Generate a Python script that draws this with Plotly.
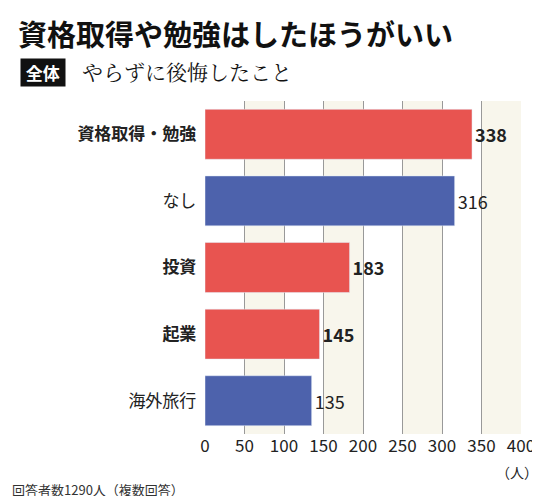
import plotly.graph_objects as go

categories = ["資格取得・勉強", "なし", "投資", "起業", "海外旅行"]
values = [338, 316, 183, 145, 135]
highlight = [True, False, True, True, False]
tick_vals = [0, 50, 100, 150, 200, 250, 300, 350, 400]

RED = "#e85450"
BLUE = "#4d62ac"
FONT = "Noto Sans CJK JP"

colors = [RED if h else BLUE for h in highlight]
ylabels = [f"<b>{c}</b>" if h else c for c, h in zip(categories, highlight)]
vlabels = [f"<b>{v}</b>" if h else str(v) for v, h in zip(values, highlight)]

fig = go.Figure(go.Bar(
    x=values, y=ylabels, orientation="h", marker_color=colors, width=0.75,
    text=vlabels, textposition="outside", cliponaxis=False,
    textfont=dict(size=18, color="#222", family=FONT),
))

shapes = []
for a in range(50, 400, 100):
    shapes.append(dict(type="rect", xref="x", yref="paper", x0=a, x1=a + 50, y0=0, y1=1,
                       fillcolor="#f8f6ec", line_width=0, layer="below"))

fig.update_layout(
    width=540, height=496, margin=dict(l=197, r=27, t=93, b=70),
    paper_bgcolor="white", plot_bgcolor="white",
    font=dict(family=FONT, color="#222"),
    shapes=shapes, showlegend=False,
    xaxis=dict(range=[0, 400], tickvals=tick_vals, showgrid=True, gridcolor="#999", gridwidth=1,
               zeroline=False, showline=False, tickfont=dict(size=17, color="#222"), ticks="",
               automargin=False),
    yaxis=dict(autorange="reversed", tickfont=dict(size=17, color="#222"), ticks="",
               ticksuffix="  ", showline=False, automargin=False),
    annotations=[
        dict(text="<b>資格取得や勉強はしたほうがいい</b>", x=0, y=1, xref="paper", yref="paper",
             xanchor="left", yanchor="top", showarrow=False, font=dict(size=29, color="#111"),
             xshift=-197 + 8, yshift=93 - 2),
        dict(text="<b> 全体 </b>", x=0, y=1, xref="paper", yref="paper", xanchor="left", yanchor="top",
             showarrow=False, font=dict(size=17, color="white"), bgcolor="#111", borderpad=1,
             xshift=-197 + 12, yshift=93 - 50),
        dict(text="やらずに後悔したこと", x=0, y=1, xref="paper", yref="paper", xanchor="left", yanchor="top",
             showarrow=False, font=dict(size=21, color="#111", family="Noto Serif CJK JP, " + FONT),
             xshift=-197 + 72, yshift=93 - 46),
        dict(text="（人）", x=400, y=0, xref="x", yref="paper", xanchor="center", yanchor="top",
             showarrow=False, font=dict(size=14), yshift=-26, xshift=-4),
        dict(text="回答者数1290人（複数回答）", x=0, y=0, xref="paper", yref="paper", xanchor="left",
             yanchor="top", showarrow=False, font=dict(size=13, color="#333"), xshift=-197 + 2, yshift=-44),
    ],
)
fig.write_html("out.html")
